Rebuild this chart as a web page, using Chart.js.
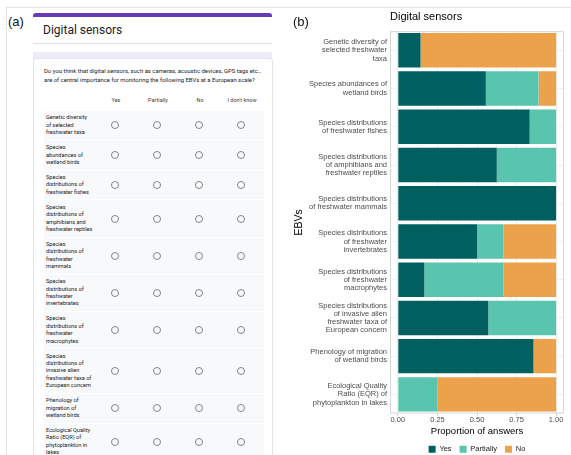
<!DOCTYPE html>
<html>
<head>
<meta charset="utf-8">
<script src="https://cdn.jsdelivr.net/npm/chart.js@4.4.1/dist/chart.umd.min.js"></script>
<style>
  html, body { margin: 0; padding: 0; }
  body { width: 571px; height: 455px; overflow: hidden; position: relative; background: #fff; font-family: Roboto, "Liberation Sans", sans-serif; }
  .frame-top { position: absolute; left: 6px; top: 7px; width: 565px; height: 1px; background: #e2e2e2; }
  .frame-left { position: absolute; left: 6px; top: 7px; width: 1px; height: 448px; background: #e2e2e2; }
  .panel-tag { position: absolute; font-family: "Liberation Sans", Arial, sans-serif; font-size: 13px; color: #111; z-index: 2; }
  #form { position: absolute; left: 33px; top: 13px; width: 239px; height: 442px; background: #f0ebf8; }
  #head-card { position: absolute; left: 0; top: 0; width: 239px; height: 39px; background: #fff; border-radius: 3px 3px 0 0; overflow: hidden; }
  #head-card .band { height: 4px; background: #673ab7; }
  #head-card .title { position: absolute; left: 10px; top: 10px; font-size: 12px; color: #202124; }
  #head-card .rule { position: absolute; left: 0; top: 30px; width: 239px; height: 1px; background: #e3e3e3; }
  #q-card { position: absolute; left: 0; top: 45px; width: 238px; height: 420px; background: #fff; border: 1px solid #e4e1ea; border-radius: 3px; }
  #q-text { position: absolute; left: 10px; top: 8px; font-size: 5.9px; line-height: 9px; color: #202124; white-space: nowrap; }
  #q-cols { position: absolute; left: 0; top: 37px; width: 238px; height: 8px; }
  #q-cols span { position: absolute; transform: translateX(-50%); font-size: 5.5px; line-height: 8px; color: #3c4043; white-space: nowrap; }
  #q-rows { position: absolute; left: 10px; top: 52px; width: 220px; }
  .row { position: relative; background: #f8f9fa; padding: 3.3px 0 3.3px 2px; margin-bottom: 1px; }
  .row .lab { font-size: 5.6px; line-height: 7.4px; color: #202124; }
  .radio { position: absolute; top: 50%; width: 6px; height: 6px; margin-top: -4px; margin-left: -4px; border: 1px solid #80868b; border-radius: 50%; }
  #chart-box { position: absolute; left: 290px; top: 0; width: 281px; height: 463px; }
</style>
</head>
<body>
<div class="frame-top"></div>
<div class="frame-left"></div>
<div class="panel-tag" style="left:8px; top:14px;">(a)</div>
<div class="panel-tag" style="left:293px; top:14px;">(b)</div>

<div id="form">
  <div id="head-card">
    <div class="band"></div>
    <div class="title">Digital sensors</div>
    <div class="rule"></div>
  </div>
  <div id="q-card">
    <div id="q-text">Do you think that digital sensors, such as cameras, acoustic devices, GPS tags etc.,<br>are of central importance for monitoring the following EBVs at a European scale?</div>
    <div id="q-cols"></div>
    <div id="q-rows"></div>
  </div>
</div>

<div id="chart-box"><canvas id="sensors-chart" width="281" height="463"></canvas></div>

<script>
// survey form (panel a)
const formColumns = ["Yes", "Partially", "No", "I don't know"];
const formRows = [
  ["Genetic diversity", "of selected", "freshwater taxa"],
  ["Species", "abundances of", "wetland birds"],
  ["Species", "distributions of", "freshwater fishes"],
  ["Species", "distributions of", "amphibians and", "freshwater reptiles"],
  ["Species", "distributions of", "freshwater", "mammals"],
  ["Species", "distributions of", "freshwater", "invertebrates"],
  ["Species", "distributions of", "freshwater", "macrophytes"],
  ["Species", "distributions of", "invasive alien", "freshwater taxa of", "European concern"],
  ["Phenology of", "migration of", "wetland birds"],
  ["Ecological Quality", "Ratio (EQR) of", "phytoplankton in", "lakes"],
];

// chart data (panel b)
const categories = [
  ["Genetic diversity of", "selected freshwater", "taxa"],
  ["Species abundances of", "wetland birds"],
  ["Species distributions", "of freshwater fishes"],
  ["Species distributions", "of amphibians and", "freshwater reptiles"],
  ["Species distributions", "of freshwater mammals"],
  ["Species distributions", "of freshwater", "invertebrates"],
  ["Species distributions", "of freshwater", "macrophytes"],
  ["Species distributions", "of invasive alien", "freshwater taxa of", "European concern"],
  ["Phenology of migration", "of wetland birds"],
  ["Ecological Quality", "Ratio (EQR) of", "phytoplankton in lakes"],
];
const yesShare = [0.143, 0.556, 0.833, 0.625, 1.0, 0.5, 0.167, 0.571, 0.857, 0];
const partialShare = [0, 0.333, 0.167, 0.375, 0, 0.167, 0.5, 0.429, 0, 0.25];
const noShare = [0.857, 0.111, 0, 0, 0, 0.333, 0.333, 0, 0.143, 0.75];
const majorTicks = [0, 0.25, 0.5, 0.75, 1];
const minorTicks = [0.125, 0.375, 0.625, 0.875];

// build the form grid
const colCenters = [82, 124, 166, 208]; // relative to the question card
const radioCenters = colCenters.map((c) => c - 11);
const colsEl = document.getElementById("q-cols");
formColumns.forEach((name, i) => {
  const s = document.createElement("span");
  s.textContent = name;
  s.style.left = colCenters[i] + "px";
  colsEl.appendChild(s);
});
const rowsEl = document.getElementById("q-rows");
formRows.forEach((lines) => {
  const row = document.createElement("div");
  row.className = "row";
  const lab = document.createElement("div");
  lab.className = "lab";
  lab.innerHTML = lines.join("<br>");
  row.appendChild(lab);
  radioCenters.forEach((x) => {
    const r = document.createElement("span");
    r.className = "radio";
    r.style.left = x + "px";
    row.appendChild(r);
  });
  rowsEl.appendChild(row);
});

Chart.defaults.font.family = "'Liberation Sans', Arial, sans-serif";

const panelBorder = {
  id: "panelBorder",
  afterDraw(chart) {
    const { ctx, chartArea: a } = chart;
    ctx.save();
    ctx.strokeStyle = "#d6d6d6";
    ctx.lineWidth = 1;
    ctx.strokeRect(a.left + 0.5, a.top + 0.5, a.width - 1, a.height - 1);
    ctx.restore();
  },
};

const ctxSensors = document.getElementById("sensors-chart");

new Chart(ctxSensors, {
  type: "bar",
  data: {
    labels: categories,
    datasets: [
      { label: "Yes", data: yesShare, backgroundColor: "#005f5f" },
      { label: "Partially", data: partialShare, backgroundColor: "#5ac5ae" },
      { label: "No", data: noShare, backgroundColor: "#eba24b" },
    ],
  },
  plugins: [panelBorder],
  options: {
    indexAxis: "y",
    responsive: false,
    animation: false,
    barPercentage: 0.9,
    categoryPercentage: 1,
    layout: { padding: { left: 0, right: 7, top: 0, bottom: 0 } },
    scales: {
      x: {
        stacked: true,
        min: -0.05,
        max: 1.05,
        afterBuildTicks: (scale) => {
          scale.ticks = majorTicks
            .concat(minorTicks)
            .sort((a, b) => a - b)
            .map((v) => ({ value: v }));
        },
        afterFit: (scale) => {
          scale.height = 24;
        },
        border: { display: false },
        grid: {
          color: (c) => (majorTicks.includes(c.tick.value) ? "#e6e6e6" : "#f1f1f1"),
          lineWidth: (c) => (majorTicks.includes(c.tick.value) ? 0.8 : 0.5),
          tickColor: (c) => (majorTicks.includes(c.tick.value) ? "#bdbdbd" : "rgba(0,0,0,0)"),
          tickLength: 2,
        },
        ticks: {
          autoSkip: false,
          maxRotation: 0,
          padding: 0,
          color: "#4d4d4d",
          font: { size: 7.5 },
          callback: (v) => (majorTicks.includes(v) ? v.toFixed(2) : ""),
        },
        title: {
          display: true,
          text: "Proportion of answers",
          color: "#000",
          font: { size: 9.5 },
          padding: { top: 0, bottom: 0.6 },
        },
      },
      y: {
        stacked: true,
        afterFit: (scale) => {
          scale.width = 100;
        },
        border: { display: false },
        grid: { offset: false, drawTicks: false, color: "#ececec", lineWidth: 0.8 },
        ticks: {
          autoSkip: false,
          padding: 3,
          color: "#4d4d4d",
          font: { size: 7.5, lineHeight: 1.1 },
        },
        title: {
          display: true,
          text: "EBVs",
          color: "#000",
          font: { size: 10.5 },
          padding: { top: 3, bottom: 0 },
        },
      },
    },
    plugins: {
      title: {
        display: true,
        text: "Digital sensors",
        align: "start",
        fullSize: false,
        color: "#000",
        font: { size: 11, weight: "normal" },
        padding: { top: 10, bottom: 8 },
      },
      legend: {
        position: "bottom",
        fullSize: false,
        labels: {
          boxWidth: 7,
          boxHeight: 7,
          padding: 8,
          color: "#1a1a1a",
          font: { size: 7.5 },
        },
      },
      tooltip: { enabled: false },
    },
  },
});
</script>
</body>
</html>
